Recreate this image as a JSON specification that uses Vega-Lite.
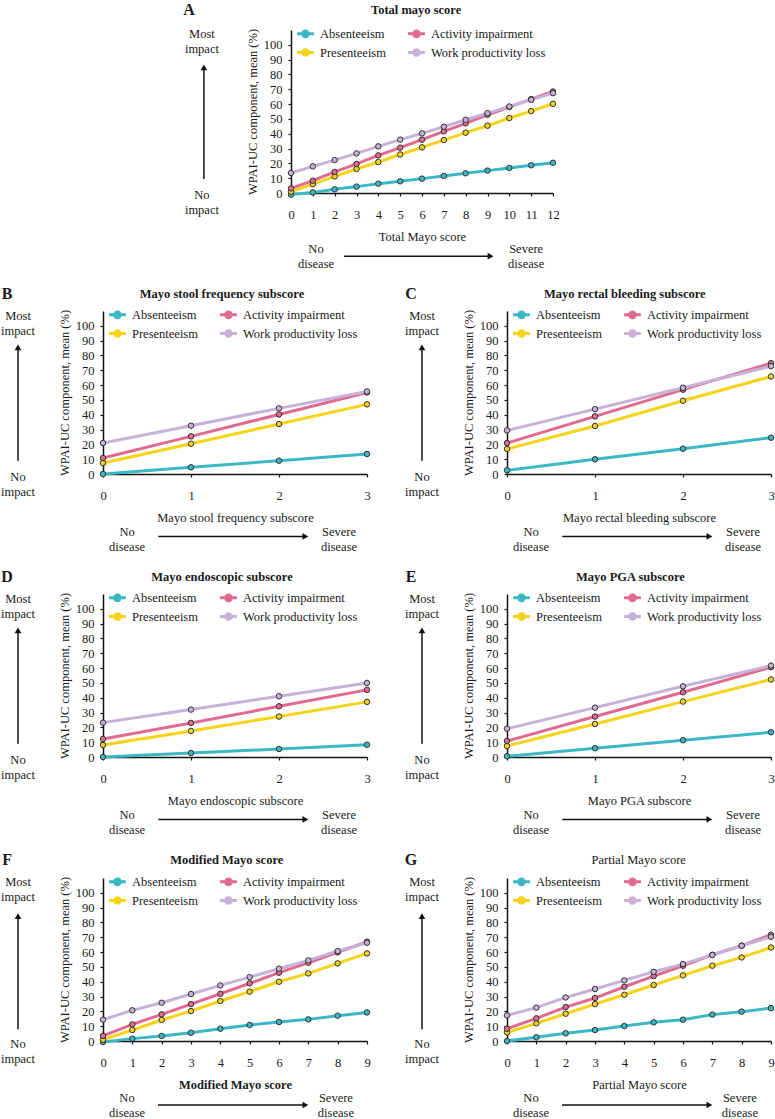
{
"$schema":"https://vega.github.io/schema/vega-lite/v6.json",
"padding":{"top":1,"left":0,"right":0,"bottom":0},
"spacing":14,
"config":{
 "font":"Liberation Serif",
 "view":{"stroke":null},
 "axis":{"labelFont":"Liberation Serif","titleFont":"Liberation Serif","labelFontSize":12.5,"titleFontSize":12.5,"titleFontWeight":"normal","labelColor":"#1a1a1a","titleColor":"#1a1a1a","domainColor":"#111","domainWidth":1.5,"tickColor":"#111","tickWidth":1.2,"tickSize":3,"grid":false,"labelOverlap":false,"labelFlush":false},
 "axisX":{"labelPadding":12,"titlePadding":10,"labelAngle":0,"format":"d"},
 "axisY":{"labelPadding":6,"titlePadding":4},
 "legend":{"orient":"none","legendX":6,"legendY":-5,"direction":"horizontal","columns":2,"columnPadding":16,"rowPadding":0,"symbolType":"M-1.2,0H1.2M0.4,0A0.4,0.4,0,1,1,-0.4,0A0.4,0.4,0,1,1,0.4,0Z","symbolSize":196,"symbolStrokeWidth":3,"labelOffset":6,"labelFont":"Liberation Serif","labelFontSize":12.5,"labelColor":"#1a1a1a"},
 "text":{"font":"Liberation Serif","fontSize":12.5,"color":"#1a1a1a","lineHeight":15,"align":"center","baseline":"middle"}
},
"resolve":{"scale":{"color":"independent","x":"independent","y":"independent"}},
"data":{"values":[
{"panel":"A","series":"Absenteeism","score":0,"value":-1.1},{"panel":"A","series":"Absenteeism","score":1,"value":0.4},{"panel":"A","series":"Absenteeism","score":2,"value":2.5},{"panel":"A","series":"Absenteeism","score":3,"value":4.3},{"panel":"A","series":"Absenteeism","score":4,"value":6.3},{"panel":"A","series":"Absenteeism","score":5,"value":7.9},{"panel":"A","series":"Absenteeism","score":6,"value":9.7},{"panel":"A","series":"Absenteeism","score":7,"value":11.5},{"panel":"A","series":"Absenteeism","score":8,"value":13.3},{"panel":"A","series":"Absenteeism","score":9,"value":15.1},{"panel":"A","series":"Absenteeism","score":10,"value":16.9},{"panel":"A","series":"Absenteeism","score":11,"value":18.7},{"panel":"A","series":"Absenteeism","score":12,"value":20.4},
{"panel":"A","series":"Presenteeism","score":0,"value":0.9},{"panel":"A","series":"Presenteeism","score":1,"value":6},{"panel":"A","series":"Presenteeism","score":2,"value":11.2},{"panel":"A","series":"Presenteeism","score":3,"value":16.2},{"panel":"A","series":"Presenteeism","score":4,"value":20.9},{"panel":"A","series":"Presenteeism","score":5,"value":26},{"panel":"A","series":"Presenteeism","score":6,"value":30.8},{"panel":"A","series":"Presenteeism","score":7,"value":35.7},{"panel":"A","series":"Presenteeism","score":8,"value":40.7},{"panel":"A","series":"Presenteeism","score":9,"value":45.4},{"panel":"A","series":"Presenteeism","score":10,"value":50.6},{"panel":"A","series":"Presenteeism","score":11,"value":55.3},{"panel":"A","series":"Presenteeism","score":12,"value":60.2},
{"panel":"A","series":"Activity impairment","score":0,"value":3.1},{"panel":"A","series":"Activity impairment","score":1,"value":8.3},{"panel":"A","series":"Activity impairment","score":2,"value":14.2},{"panel":"A","series":"Activity impairment","score":3,"value":19.6},{"panel":"A","series":"Activity impairment","score":4,"value":25.4},{"panel":"A","series":"Activity impairment","score":5,"value":30.6},{"panel":"A","series":"Activity impairment","score":6,"value":36},{"panel":"A","series":"Activity impairment","score":7,"value":41.6},{"panel":"A","series":"Activity impairment","score":8,"value":47},{"panel":"A","series":"Activity impairment","score":9,"value":52.8},{"panel":"A","series":"Activity impairment","score":10,"value":58},{"panel":"A","series":"Activity impairment","score":11,"value":63.4},{"panel":"A","series":"Activity impairment","score":12,"value":68.5},
{"panel":"A","series":"Work productivity loss","score":0,"value":13.5},{"panel":"A","series":"Work productivity loss","score":1,"value":18},{"panel":"A","series":"Work productivity loss","score":2,"value":22.2},{"panel":"A","series":"Work productivity loss","score":3,"value":26.7},{"panel":"A","series":"Work productivity loss","score":4,"value":31.5},{"panel":"A","series":"Work productivity loss","score":5,"value":36},{"panel":"A","series":"Work productivity loss","score":6,"value":40.2},{"panel":"A","series":"Work productivity loss","score":7,"value":44.7},{"panel":"A","series":"Work productivity loss","score":8,"value":49.4},{"panel":"A","series":"Work productivity loss","score":9,"value":53.9},{"panel":"A","series":"Work productivity loss","score":10,"value":58.4},{"panel":"A","series":"Work productivity loss","score":11,"value":62.9},{"panel":"A","series":"Work productivity loss","score":12,"value":67.4},
{"panel":"B","series":"Absenteeism","score":0,"value":0},{"panel":"B","series":"Absenteeism","score":1,"value":4.5},{"panel":"B","series":"Absenteeism","score":2,"value":9},{"panel":"B","series":"Absenteeism","score":3,"value":13.5},
{"panel":"B","series":"Presenteeism","score":0,"value":7.4},{"panel":"B","series":"Presenteeism","score":1,"value":20.4},{"panel":"B","series":"Presenteeism","score":2,"value":33.7},{"panel":"B","series":"Presenteeism","score":3,"value":47},
{"panel":"B","series":"Activity impairment","score":0,"value":10.8},{"panel":"B","series":"Activity impairment","score":1,"value":25.4},{"panel":"B","series":"Activity impairment","score":2,"value":40.2},{"panel":"B","series":"Activity impairment","score":3,"value":55},
{"panel":"B","series":"Work productivity loss","score":0,"value":20.9},{"panel":"B","series":"Work productivity loss","score":1,"value":32.6},{"panel":"B","series":"Work productivity loss","score":2,"value":44.3},{"panel":"B","series":"Work productivity loss","score":3,"value":55.7},
{"panel":"C","series":"Absenteeism","score":0,"value":2.5},{"panel":"C","series":"Absenteeism","score":1,"value":9.9},{"panel":"C","series":"Absenteeism","score":2,"value":17.1},{"panel":"C","series":"Absenteeism","score":3,"value":24.5},
{"panel":"C","series":"Presenteeism","score":0,"value":16.9},{"panel":"C","series":"Presenteeism","score":1,"value":32.4},{"panel":"C","series":"Presenteeism","score":2,"value":49.4},{"panel":"C","series":"Presenteeism","score":3,"value":65.8},
{"panel":"C","series":"Activity impairment","score":0,"value":20.9},{"panel":"C","series":"Activity impairment","score":1,"value":38.9},{"panel":"C","series":"Activity impairment","score":2,"value":56.9},{"panel":"C","series":"Activity impairment","score":3,"value":74.8},
{"panel":"C","series":"Work productivity loss","score":0,"value":29.4},{"panel":"C","series":"Work productivity loss","score":1,"value":43.8},{"panel":"C","series":"Work productivity loss","score":2,"value":58.2},{"panel":"C","series":"Work productivity loss","score":3,"value":72.8},
{"panel":"D","series":"Absenteeism","score":0,"value":0},{"panel":"D","series":"Absenteeism","score":1,"value":2.7},{"panel":"D","series":"Absenteeism","score":2,"value":5.4},{"panel":"D","series":"Absenteeism","score":3,"value":8.3},
{"panel":"D","series":"Presenteeism","score":0,"value":8.1},{"panel":"D","series":"Presenteeism","score":1,"value":17.6},{"panel":"D","series":"Presenteeism","score":2,"value":27.3},{"panel":"D","series":"Presenteeism","score":3,"value":37.2},
{"panel":"D","series":"Activity impairment","score":0,"value":12.2},{"panel":"D","series":"Activity impairment","score":1,"value":23},{"panel":"D","series":"Activity impairment","score":2,"value":34.2},{"panel":"D","series":"Activity impairment","score":3,"value":45.3},
{"panel":"D","series":"Work productivity loss","score":0,"value":23.2},{"panel":"D","series":"Work productivity loss","score":1,"value":32},{"panel":"D","series":"Work productivity loss","score":2,"value":41},{"panel":"D","series":"Work productivity loss","score":3,"value":50},
{"panel":"E","series":"Absenteeism","score":0,"value":0.5},{"panel":"E","series":"Absenteeism","score":1,"value":5.9},{"panel":"E","series":"Absenteeism","score":2,"value":11.3},{"panel":"E","series":"Absenteeism","score":3,"value":16.7},
{"panel":"E","series":"Presenteeism","score":0,"value":7.4},{"panel":"E","series":"Presenteeism","score":1,"value":22.3},{"panel":"E","series":"Presenteeism","score":2,"value":37.4},{"panel":"E","series":"Presenteeism","score":3,"value":52.3},
{"panel":"E","series":"Activity impairment","score":0,"value":10.8},{"panel":"E","series":"Activity impairment","score":1,"value":27.3},{"panel":"E","series":"Activity impairment","score":2,"value":43.7},{"panel":"E","series":"Activity impairment","score":3,"value":60.6},
{"panel":"E","series":"Work productivity loss","score":0,"value":19.1},{"panel":"E","series":"Work productivity loss","score":1,"value":33.3},{"panel":"E","series":"Work productivity loss","score":2,"value":47.7},{"panel":"E","series":"Work productivity loss","score":3,"value":61.7},
{"panel":"F","series":"Absenteeism","score":0,"value":-0.7},{"panel":"F","series":"Absenteeism","score":1,"value":1.6},{"panel":"F","series":"Absenteeism","score":2,"value":3.4},{"panel":"F","series":"Absenteeism","score":3,"value":5.6},{"panel":"F","series":"Absenteeism","score":4,"value":8.3},{"panel":"F","series":"Absenteeism","score":5,"value":10.8},{"panel":"F","series":"Absenteeism","score":6,"value":12.8},{"panel":"F","series":"Absenteeism","score":7,"value":14.6},{"panel":"F","series":"Absenteeism","score":8,"value":17.1},{"panel":"F","series":"Absenteeism","score":9,"value":19.3},
{"panel":"F","series":"Presenteeism","score":0,"value":0.9},{"panel":"F","series":"Presenteeism","score":1,"value":7.4},{"panel":"F","series":"Presenteeism","score":2,"value":14.2},{"panel":"F","series":"Presenteeism","score":3,"value":20.2},{"panel":"F","series":"Presenteeism","score":4,"value":27},{"panel":"F","series":"Presenteeism","score":5,"value":33.3},{"panel":"F","series":"Presenteeism","score":6,"value":40},{"panel":"F","series":"Presenteeism","score":7,"value":45.6},{"panel":"F","series":"Presenteeism","score":8,"value":52.4},{"panel":"F","series":"Presenteeism","score":9,"value":59.1},
{"panel":"F","series":"Activity impairment","score":0,"value":3.4},{"panel":"F","series":"Activity impairment","score":1,"value":11.2},{"panel":"F","series":"Activity impairment","score":2,"value":18},{"panel":"F","series":"Activity impairment","score":3,"value":24.9},{"panel":"F","series":"Activity impairment","score":4,"value":31.9},{"panel":"F","series":"Activity impairment","score":5,"value":38.9},{"panel":"F","series":"Activity impairment","score":6,"value":46.1},{"panel":"F","series":"Activity impairment","score":7,"value":52.8},{"panel":"F","series":"Activity impairment","score":8,"value":59.8},{"panel":"F","series":"Activity impairment","score":9,"value":67},
{"panel":"F","series":"Work productivity loss","score":0,"value":14.4},{"panel":"F","series":"Work productivity loss","score":1,"value":20.7},{"panel":"F","series":"Work productivity loss","score":2,"value":25.8},{"panel":"F","series":"Work productivity loss","score":3,"value":31.7},{"panel":"F","series":"Work productivity loss","score":4,"value":37.5},{"panel":"F","series":"Work productivity loss","score":5,"value":43.1},{"panel":"F","series":"Work productivity loss","score":6,"value":48.8},{"panel":"F","series":"Work productivity loss","score":7,"value":54.4},{"panel":"F","series":"Work productivity loss","score":8,"value":60.7},{"panel":"F","series":"Work productivity loss","score":9,"value":66.3},
{"panel":"G","series":"Absenteeism","score":0,"value":0},{"panel":"G","series":"Absenteeism","score":1,"value":2.5},{"panel":"G","series":"Absenteeism","score":2,"value":5.2},{"panel":"G","series":"Absenteeism","score":3,"value":7.4},{"panel":"G","series":"Absenteeism","score":4,"value":10.1},{"panel":"G","series":"Absenteeism","score":5,"value":12.6},{"panel":"G","series":"Absenteeism","score":6,"value":14.4},{"panel":"G","series":"Absenteeism","score":7,"value":17.8},{"panel":"G","series":"Absenteeism","score":8,"value":19.8},{"panel":"G","series":"Absenteeism","score":9,"value":22.2},
{"panel":"G","series":"Presenteeism","score":0,"value":5.8},{"panel":"G","series":"Presenteeism","score":1,"value":11.9},{"panel":"G","series":"Presenteeism","score":2,"value":18.4},{"panel":"G","series":"Presenteeism","score":3,"value":24.9},{"panel":"G","series":"Presenteeism","score":4,"value":31.2},{"panel":"G","series":"Presenteeism","score":5,"value":37.8},{"panel":"G","series":"Presenteeism","score":6,"value":44.3},{"panel":"G","series":"Presenteeism","score":7,"value":50.8},{"panel":"G","series":"Presenteeism","score":8,"value":56.4},{"panel":"G","series":"Presenteeism","score":9,"value":63.1},
{"panel":"G","series":"Activity impairment","score":0,"value":8.3},{"panel":"G","series":"Activity impairment","score":1,"value":15.3},{"panel":"G","series":"Activity impairment","score":2,"value":22.9},{"panel":"G","series":"Activity impairment","score":3,"value":29},{"panel":"G","series":"Activity impairment","score":4,"value":36.6},{"panel":"G","series":"Activity impairment","score":5,"value":43.8},{"panel":"G","series":"Activity impairment","score":6,"value":50.8},{"panel":"G","series":"Activity impairment","score":7,"value":58.2},{"panel":"G","series":"Activity impairment","score":8,"value":64.3},{"panel":"G","series":"Activity impairment","score":9,"value":71.7},
{"panel":"G","series":"Work productivity loss","score":0,"value":17.3},{"panel":"G","series":"Work productivity loss","score":1,"value":22.5},{"panel":"G","series":"Work productivity loss","score":2,"value":29.4},{"panel":"G","series":"Work productivity loss","score":3,"value":35.1},{"panel":"G","series":"Work productivity loss","score":4,"value":40.9},{"panel":"G","series":"Work productivity loss","score":5,"value":46.7},{"panel":"G","series":"Work productivity loss","score":6,"value":51.9},{"panel":"G","series":"Work productivity loss","score":7,"value":58},{"panel":"G","series":"Work productivity loss","score":8,"value":64.3},{"panel":"G","series":"Work productivity loss","score":9,"value":70.3}
]},
"vconcat":[
{"hconcat":[
 {"width":188,"height":10,"data":{"values":[]},"mark":{"type":"point","opacity":0},"encoding":{}},
 {"width":262,"height":163,
  "resolve":{"scale":{"x":"independent","y":"independent"}},
  "layer":[
   {"transform":[{"filter":"datum.panel === 'A'"}],
    "encoding":{
     "x":{"field":"score","type":"quantitative","scale":{"domain":[0,12],"nice":false,"zero":false},"axis":{"values":[0,1,2,3,4,5,6,7,8,9,10,11,12],"labelOverlap":false,"title":"Total Mayo score"}},
     "y":{"field":"value","type":"quantitative","scale":{"domain":[0,110],"nice":false},"axis":{"values":[0,10,20,30,40,50,60,70,80,90,100],"labelOverlap":false,"title":"WPAI-UC component, mean (%)"}},
     "color":{"field":"series","type":"nominal","title":null,"scale":{"domain":["Absenteeism","Activity impairment","Presenteeism","Work productivity loss"],"range":["#3bb8c3","#e06b8f","#f5d418","#c7b1d8"]}}},
    "layer":[
     {"mark":{"type":"line","strokeWidth":3},"encoding":{}},
     {"mark":{"type":"point","filled":true,"size":30,"stroke":"#333","strokeWidth":1,"opacity":1},"encoding":{}}
    ]},
   {"data":{"values":[{}]},
    "encoding":{"x":{"datum":0,"type":"quantitative","scale":{"domain":[0,12],"nice":false,"zero":false},"axis":null},"y":{"datum":0,"type":"quantitative","scale":{"domain":[0,110],"nice":false,"zero":false},"axis":null}},
    "layer":[
     {"mark":{"type":"text","fontSize":16,"fontWeight":"bold"},"encoding":{"x":{"datum":-4.67},"y":{"datum":123.6},"text":{"value":"A"}}},
     {"mark":{"type":"text","fontWeight":"bold"},"encoding":{"x":{"datum":5.73},"y":{"datum":123.6},"text":{"value":"Total mayo score"}}},
     {"mark":{"type":"text"},"encoding":{"x":{"datum":-4.08},"y":{"datum":107.4},"text":{"value":["Most","impact"]}}},
     {"mark":{"type":"text"},"encoding":{"x":{"datum":-4.08},"y":{"datum":-1.35},"text":{"value":["No","impact"]}}},
     {"mark":{"type":"text"},"encoding":{"x":{"datum":1.145},"y":{"datum":-37.8},"text":{"value":["No","disease"]}}},
     {"mark":{"type":"text"},"encoding":{"x":{"datum":10.77},"y":{"datum":-37.8},"text":{"value":["Severe","disease"]}}},
     {"mark":{"type":"rule","strokeWidth":1.5,"color":"#111"},"encoding":{"x":{"datum":-3.99},"y":{"datum":9.5},"y2":{"datum":84.8}}},
     {"mark":{"type":"point","shape":"triangle-up","filled":true,"size":45,"color":"#111","opacity":1},"encoding":{"x":{"datum":-3.99},"y":{"datum":84.8}}},
     {"mark":{"type":"rule","strokeWidth":1.5,"color":"#111"},"encoding":{"x":{"datum":2.43},"x2":{"datum":9.14},"y":{"datum":-42.6}}},
     {"mark":{"type":"point","shape":"triangle-right","filled":true,"size":45,"color":"#111","opacity":1},"encoding":{"x":{"datum":9.14},"y":{"datum":-42.6}}}
    ]}
  ]}
 ],"spacing":0,"bounds":"flush","resolve":{"scale":{"color":"independent","x":"independent","y":"independent"}}},
{"hconcat":[
 {"width":264,"height":163,
  "resolve":{"scale":{"x":"independent","y":"independent"}},
  "layer":[
   {"transform":[{"filter":"datum.panel === 'B'"}],
    "encoding":{
     "x":{"field":"score","type":"quantitative","scale":{"domain":[0,3],"nice":false,"zero":false},"axis":{"values":[0,1,2,3],"labelOverlap":false,"title":"Mayo stool frequency subscore"}},
     "y":{"field":"value","type":"quantitative","scale":{"domain":[0,110],"nice":false},"axis":{"values":[0,10,20,30,40,50,60,70,80,90,100],"labelOverlap":false,"title":"WPAI-UC component, mean (%)"}},
     "color":{"field":"series","type":"nominal","title":null,"scale":{"domain":["Absenteeism","Activity impairment","Presenteeism","Work productivity loss"],"range":["#3bb8c3","#e06b8f","#f5d418","#c7b1d8"]}}},
    "layer":[
     {"mark":{"type":"line","strokeWidth":3},"encoding":{}},
     {"mark":{"type":"point","filled":true,"size":30,"stroke":"#333","strokeWidth":1,"opacity":1},"encoding":{}}
    ]},
   {"data":{"values":[{}]},
    "encoding":{"x":{"datum":0,"type":"quantitative","scale":{"domain":[0,3],"nice":false,"zero":false},"axis":null},"y":{"datum":0,"type":"quantitative","scale":{"domain":[0,110],"nice":false,"zero":false},"axis":null}},
    "layer":[
     {"mark":{"type":"text","fontSize":16,"fontWeight":"bold"},"encoding":{"x":{"datum":-1.091},"y":{"datum":121.8},"text":{"value":"B"}}},
     {"mark":{"type":"text","fontWeight":"bold"},"encoding":{"x":{"datum":1.352},"y":{"datum":121.8},"text":{"value":"Mayo stool frequency subscore"}}},
     {"mark":{"type":"text"},"encoding":{"x":{"datum":-0.966},"y":{"datum":106.8},"text":{"value":["Most","impact"]}}},
     {"mark":{"type":"text"},"encoding":{"x":{"datum":-0.966},"y":{"datum":-2.2},"text":{"value":["No","impact"]}}},
     {"mark":{"type":"text"},"encoding":{"x":{"datum":0.273},"y":{"datum":-39.2},"text":{"value":["No","disease"]}}},
     {"mark":{"type":"text"},"encoding":{"x":{"datum":2.682},"y":{"datum":-39.2},"text":{"value":["Severe","disease"]}}},
     {"mark":{"type":"rule","strokeWidth":1.5,"color":"#111"},"encoding":{"x":{"datum":-0.966},"y":{"datum":9},"y2":{"datum":85.5}}},
     {"mark":{"type":"point","shape":"triangle-up","filled":true,"size":45,"color":"#111","opacity":1},"encoding":{"x":{"datum":-0.966},"y":{"datum":85.5}}},
     {"mark":{"type":"rule","strokeWidth":1.5,"color":"#111"},"encoding":{"x":{"datum":0.629},"x2":{"datum":2.30},"y":{"datum":-42.1}}},
     {"mark":{"type":"point","shape":"triangle-right","filled":true,"size":45,"color":"#111","opacity":1},"encoding":{"x":{"datum":2.30},"y":{"datum":-42.1}}}
    ]}
  ]},
 {"width":264,"height":163,
  "resolve":{"scale":{"x":"independent","y":"independent"}},
  "layer":[
   {"transform":[{"filter":"datum.panel === 'C'"}],
    "encoding":{
     "x":{"field":"score","type":"quantitative","scale":{"domain":[0,3],"nice":false,"zero":false},"axis":{"values":[0,1,2,3],"labelOverlap":false,"title":"Mayo rectal bleeding subscore"}},
     "y":{"field":"value","type":"quantitative","scale":{"domain":[0,110],"nice":false},"axis":{"values":[0,10,20,30,40,50,60,70,80,90,100],"labelOverlap":false,"title":"WPAI-UC component, mean (%)"}},
     "color":{"field":"series","type":"nominal","title":null,"scale":{"domain":["Absenteeism","Activity impairment","Presenteeism","Work productivity loss"],"range":["#3bb8c3","#e06b8f","#f5d418","#c7b1d8"]}}},
    "layer":[
     {"mark":{"type":"line","strokeWidth":3},"encoding":{}},
     {"mark":{"type":"point","filled":true,"size":30,"stroke":"#333","strokeWidth":1,"opacity":1},"encoding":{}}
    ]},
   {"data":{"values":[{}]},
    "encoding":{"x":{"datum":0,"type":"quantitative","scale":{"domain":[0,3],"nice":false,"zero":false},"axis":null},"y":{"datum":0,"type":"quantitative","scale":{"domain":[0,110],"nice":false,"zero":false},"axis":null}},
    "layer":[
     {"mark":{"type":"text","fontSize":16,"fontWeight":"bold"},"encoding":{"x":{"datum":-1.091},"y":{"datum":121.8},"text":{"value":"C"}}},
     {"mark":{"type":"text","fontWeight":"bold"},"encoding":{"x":{"datum":1.338},"y":{"datum":121.8},"text":{"value":"Mayo rectal bleeding subscore"}}},
     {"mark":{"type":"text"},"encoding":{"x":{"datum":-0.966},"y":{"datum":106.8},"text":{"value":["Most","impact"]}}},
     {"mark":{"type":"text"},"encoding":{"x":{"datum":-0.966},"y":{"datum":-2.2},"text":{"value":["No","impact"]}}},
     {"mark":{"type":"text"},"encoding":{"x":{"datum":0.273},"y":{"datum":-39.2},"text":{"value":["No","disease"]}}},
     {"mark":{"type":"text"},"encoding":{"x":{"datum":2.682},"y":{"datum":-39.2},"text":{"value":["Severe","disease"]}}},
     {"mark":{"type":"rule","strokeWidth":1.5,"color":"#111"},"encoding":{"x":{"datum":-0.966},"y":{"datum":9},"y2":{"datum":85.5}}},
     {"mark":{"type":"point","shape":"triangle-up","filled":true,"size":45,"color":"#111","opacity":1},"encoding":{"x":{"datum":-0.966},"y":{"datum":85.5}}},
     {"mark":{"type":"rule","strokeWidth":1.5,"color":"#111"},"encoding":{"x":{"datum":0.629},"x2":{"datum":2.30},"y":{"datum":-42.1}}},
     {"mark":{"type":"point","shape":"triangle-right","filled":true,"size":45,"color":"#111","opacity":1},"encoding":{"x":{"datum":2.30},"y":{"datum":-42.1}}}
    ]}
  ]}
 ],"spacing":31,"resolve":{"scale":{"color":"independent","x":"independent","y":"independent"}}},
{"hconcat":[
 {"width":264,"height":163,
  "resolve":{"scale":{"x":"independent","y":"independent"}},
  "layer":[
   {"transform":[{"filter":"datum.panel === 'D'"}],
    "encoding":{
     "x":{"field":"score","type":"quantitative","scale":{"domain":[0,3],"nice":false,"zero":false},"axis":{"values":[0,1,2,3],"labelOverlap":false,"title":"Mayo endoscopic subscore"}},
     "y":{"field":"value","type":"quantitative","scale":{"domain":[0,110],"nice":false},"axis":{"values":[0,10,20,30,40,50,60,70,80,90,100],"labelOverlap":false,"title":"WPAI-UC component, mean (%)"}},
     "color":{"field":"series","type":"nominal","title":null,"scale":{"domain":["Absenteeism","Activity impairment","Presenteeism","Work productivity loss"],"range":["#3bb8c3","#e06b8f","#f5d418","#c7b1d8"]}}},
    "layer":[
     {"mark":{"type":"line","strokeWidth":3},"encoding":{}},
     {"mark":{"type":"point","filled":true,"size":30,"stroke":"#333","strokeWidth":1,"opacity":1},"encoding":{}}
    ]},
   {"data":{"values":[{}]},
    "encoding":{"x":{"datum":0,"type":"quantitative","scale":{"domain":[0,3],"nice":false,"zero":false},"axis":null},"y":{"datum":0,"type":"quantitative","scale":{"domain":[0,110],"nice":false,"zero":false},"axis":null}},
    "layer":[
     {"mark":{"type":"text","fontSize":16,"fontWeight":"bold"},"encoding":{"x":{"datum":-1.091},"y":{"datum":121.8},"text":{"value":"D"}}},
     {"mark":{"type":"text","fontWeight":"bold"},"encoding":{"x":{"datum":1.352},"y":{"datum":121.8},"text":{"value":"Mayo endoscopic subscore"}}},
     {"mark":{"type":"text"},"encoding":{"x":{"datum":-0.966},"y":{"datum":106.8},"text":{"value":["Most","impact"]}}},
     {"mark":{"type":"text"},"encoding":{"x":{"datum":-0.966},"y":{"datum":-2.2},"text":{"value":["No","impact"]}}},
     {"mark":{"type":"text"},"encoding":{"x":{"datum":0.273},"y":{"datum":-39.2},"text":{"value":["No","disease"]}}},
     {"mark":{"type":"text"},"encoding":{"x":{"datum":2.682},"y":{"datum":-39.2},"text":{"value":["Severe","disease"]}}},
     {"mark":{"type":"rule","strokeWidth":1.5,"color":"#111"},"encoding":{"x":{"datum":-0.966},"y":{"datum":9},"y2":{"datum":85.5}}},
     {"mark":{"type":"point","shape":"triangle-up","filled":true,"size":45,"color":"#111","opacity":1},"encoding":{"x":{"datum":-0.966},"y":{"datum":85.5}}},
     {"mark":{"type":"rule","strokeWidth":1.5,"color":"#111"},"encoding":{"x":{"datum":0.629},"x2":{"datum":2.30},"y":{"datum":-42.1}}},
     {"mark":{"type":"point","shape":"triangle-right","filled":true,"size":45,"color":"#111","opacity":1},"encoding":{"x":{"datum":2.30},"y":{"datum":-42.1}}}
    ]}
  ]},
 {"width":264,"height":163,
  "resolve":{"scale":{"x":"independent","y":"independent"}},
  "layer":[
   {"transform":[{"filter":"datum.panel === 'E'"}],
    "encoding":{
     "x":{"field":"score","type":"quantitative","scale":{"domain":[0,3],"nice":false,"zero":false},"axis":{"values":[0,1,2,3],"labelOverlap":false,"title":"Mayo PGA subscore"}},
     "y":{"field":"value","type":"quantitative","scale":{"domain":[0,110],"nice":false},"axis":{"values":[0,10,20,30,40,50,60,70,80,90,100],"labelOverlap":false,"title":"WPAI-UC component, mean (%)"}},
     "color":{"field":"series","type":"nominal","title":null,"scale":{"domain":["Absenteeism","Activity impairment","Presenteeism","Work productivity loss"],"range":["#3bb8c3","#e06b8f","#f5d418","#c7b1d8"]}}},
    "layer":[
     {"mark":{"type":"line","strokeWidth":3},"encoding":{}},
     {"mark":{"type":"point","filled":true,"size":30,"stroke":"#333","strokeWidth":1,"opacity":1},"encoding":{}}
    ]},
   {"data":{"values":[{}]},
    "encoding":{"x":{"datum":0,"type":"quantitative","scale":{"domain":[0,3],"nice":false,"zero":false},"axis":null},"y":{"datum":0,"type":"quantitative","scale":{"domain":[0,110],"nice":false,"zero":false},"axis":null}},
    "layer":[
     {"mark":{"type":"text","fontSize":16,"fontWeight":"bold"},"encoding":{"x":{"datum":-1.091},"y":{"datum":121.8},"text":{"value":"E"}}},
     {"mark":{"type":"text","fontWeight":"bold"},"encoding":{"x":{"datum":1.402},"y":{"datum":121.8},"text":{"value":"Mayo PGA subscore"}}},
     {"mark":{"type":"text"},"encoding":{"x":{"datum":-0.966},"y":{"datum":106.8},"text":{"value":["Most","impact"]}}},
     {"mark":{"type":"text"},"encoding":{"x":{"datum":-0.966},"y":{"datum":-2.2},"text":{"value":["No","impact"]}}},
     {"mark":{"type":"text"},"encoding":{"x":{"datum":0.273},"y":{"datum":-39.2},"text":{"value":["No","disease"]}}},
     {"mark":{"type":"text"},"encoding":{"x":{"datum":2.682},"y":{"datum":-39.2},"text":{"value":["Severe","disease"]}}},
     {"mark":{"type":"rule","strokeWidth":1.5,"color":"#111"},"encoding":{"x":{"datum":-0.966},"y":{"datum":9},"y2":{"datum":85.5}}},
     {"mark":{"type":"point","shape":"triangle-up","filled":true,"size":45,"color":"#111","opacity":1},"encoding":{"x":{"datum":-0.966},"y":{"datum":85.5}}},
     {"mark":{"type":"rule","strokeWidth":1.5,"color":"#111"},"encoding":{"x":{"datum":0.629},"x2":{"datum":2.30},"y":{"datum":-42.1}}},
     {"mark":{"type":"point","shape":"triangle-right","filled":true,"size":45,"color":"#111","opacity":1},"encoding":{"x":{"datum":2.30},"y":{"datum":-42.1}}}
    ]}
  ]}
 ],"spacing":31,"resolve":{"scale":{"color":"independent","x":"independent","y":"independent"}}},
{"hconcat":[
 {"width":264,"height":163,
  "resolve":{"scale":{"x":"independent","y":"independent"}},
  "layer":[
   {"transform":[{"filter":"datum.panel === 'F'"}],
    "encoding":{
     "x":{"field":"score","type":"quantitative","scale":{"domain":[0,9],"nice":false,"zero":false},"axis":{"values":[0,1,2,3,4,5,6,7,8,9],"labelOverlap":false,"title":"Modified Mayo score","titleFontWeight":"bold"}},
     "y":{"field":"value","type":"quantitative","scale":{"domain":[0,110],"nice":false},"axis":{"values":[0,10,20,30,40,50,60,70,80,90,100],"labelOverlap":false,"title":"WPAI-UC component, mean (%)"}},
     "color":{"field":"series","type":"nominal","title":null,"scale":{"domain":["Absenteeism","Activity impairment","Presenteeism","Work productivity loss"],"range":["#3bb8c3","#e06b8f","#f5d418","#c7b1d8"]}}},
    "layer":[
     {"mark":{"type":"line","strokeWidth":3},"encoding":{}},
     {"mark":{"type":"point","filled":true,"size":30,"stroke":"#333","strokeWidth":1,"opacity":1},"encoding":{}}
    ]},
   {"data":{"values":[{}]},
    "encoding":{"x":{"datum":0,"type":"quantitative","scale":{"domain":[0,9],"nice":false,"zero":false},"axis":null},"y":{"datum":0,"type":"quantitative","scale":{"domain":[0,110],"nice":false,"zero":false},"axis":null}},
    "layer":[
     {"mark":{"type":"text","fontSize":16,"fontWeight":"bold"},"encoding":{"x":{"datum":-3.27},"y":{"datum":122.3},"text":{"value":"F"}}},
     {"mark":{"type":"text","fontWeight":"bold"},"encoding":{"x":{"datum":4.22},"y":{"datum":122.3},"text":{"value":"Modified Mayo score"}}},
     {"mark":{"type":"text"},"encoding":{"x":{"datum":-2.898},"y":{"datum":107},"text":{"value":["Most","impact"]}}},
     {"mark":{"type":"text"},"encoding":{"x":{"datum":-2.898},"y":{"datum":-2.2},"text":{"value":["No","impact"]}}},
     {"mark":{"type":"text"},"encoding":{"x":{"datum":0.818},"y":{"datum":-38.5},"text":{"value":["No","disease"]}}},
     {"mark":{"type":"text"},"encoding":{"x":{"datum":7.94},"y":{"datum":-38.5},"text":{"value":["Severe","disease"]}}},
     {"mark":{"type":"rule","strokeWidth":1.5,"color":"#111"},"encoding":{"x":{"datum":-2.898},"y":{"datum":8},"y2":{"datum":84.3}}},
     {"mark":{"type":"point","shape":"triangle-up","filled":true,"size":45,"color":"#111","opacity":1},"encoding":{"x":{"datum":-2.898},"y":{"datum":84.3}}},
     {"mark":{"type":"rule","strokeWidth":1.5,"color":"#111"},"encoding":{"x":{"datum":1.875},"x2":{"datum":6.9},"y":{"datum":-43.2}}},
     {"mark":{"type":"point","shape":"triangle-right","filled":true,"size":45,"color":"#111","opacity":1},"encoding":{"x":{"datum":6.9},"y":{"datum":-43.2}}}
    ]}
  ]},
 {"width":264,"height":163,
  "resolve":{"scale":{"x":"independent","y":"independent"}},
  "layer":[
   {"transform":[{"filter":"datum.panel === 'G'"}],
    "encoding":{
     "x":{"field":"score","type":"quantitative","scale":{"domain":[0,9],"nice":false,"zero":false},"axis":{"values":[0,1,2,3,4,5,6,7,8,9],"labelOverlap":false,"title":"Partial Mayo score"}},
     "y":{"field":"value","type":"quantitative","scale":{"domain":[0,110],"nice":false},"axis":{"values":[0,10,20,30,40,50,60,70,80,90,100],"labelOverlap":false,"title":"WPAI-UC component, mean (%)"}},
     "color":{"field":"series","type":"nominal","title":null,"scale":{"domain":["Absenteeism","Activity impairment","Presenteeism","Work productivity loss"],"range":["#3bb8c3","#e06b8f","#f5d418","#c7b1d8"]}}},
    "layer":[
     {"mark":{"type":"line","strokeWidth":3},"encoding":{}},
     {"mark":{"type":"point","filled":true,"size":30,"stroke":"#333","strokeWidth":1,"opacity":1},"encoding":{}}
    ]},
   {"data":{"values":[{}]},
    "encoding":{"x":{"datum":0,"type":"quantitative","scale":{"domain":[0,9],"nice":false,"zero":false},"axis":null},"y":{"datum":0,"type":"quantitative","scale":{"domain":[0,110],"nice":false,"zero":false},"axis":null}},
    "layer":[
     {"mark":{"type":"text","fontSize":16,"fontWeight":"bold"},"encoding":{"x":{"datum":-3.27},"y":{"datum":122.3},"text":{"value":"G"}}},
     {"mark":{"type":"text"},"encoding":{"x":{"datum":4.49},"y":{"datum":122.3},"text":{"value":"Partial Mayo score"}}},
     {"mark":{"type":"text"},"encoding":{"x":{"datum":-2.898},"y":{"datum":107},"text":{"value":["Most","impact"]}}},
     {"mark":{"type":"text"},"encoding":{"x":{"datum":-2.898},"y":{"datum":-2.2},"text":{"value":["No","impact"]}}},
     {"mark":{"type":"text"},"encoding":{"x":{"datum":0.818},"y":{"datum":-38.5},"text":{"value":["No","disease"]}}},
     {"mark":{"type":"text"},"encoding":{"x":{"datum":7.94},"y":{"datum":-38.5},"text":{"value":["Severe","disease"]}}},
     {"mark":{"type":"rule","strokeWidth":1.5,"color":"#111"},"encoding":{"x":{"datum":-2.898},"y":{"datum":8},"y2":{"datum":84.3}}},
     {"mark":{"type":"point","shape":"triangle-up","filled":true,"size":45,"color":"#111","opacity":1},"encoding":{"x":{"datum":-2.898},"y":{"datum":84.3}}},
     {"mark":{"type":"rule","strokeWidth":1.5,"color":"#111"},"encoding":{"x":{"datum":1.875},"x2":{"datum":6.9},"y":{"datum":-43.2}}},
     {"mark":{"type":"point","shape":"triangle-right","filled":true,"size":45,"color":"#111","opacity":1},"encoding":{"x":{"datum":6.9},"y":{"datum":-43.2}}}
    ]}
  ]}
 ],"spacing":31,"resolve":{"scale":{"color":"independent","x":"independent","y":"independent"}}}
]
}
